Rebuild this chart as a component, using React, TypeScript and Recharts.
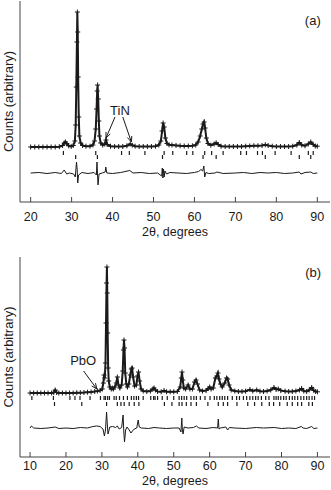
import React from "react";
import {
  ComposedChart,
  Line,
  Scatter,
  XAxis,
  YAxis,
  ReferenceLine,
  ReferenceDot,
} from "recharts";

type Pt = [number, number];

const FONT = "'Liberation Sans', Arial, sans-serif";
const INK = "#1a1a1a";
const FRAME = "#444";

// ---- panel (a) ----
const ticksA = [20, 30, 40, 50, 60, 70, 80, 90];

// observed profile: [2theta, counts]
const obsA: Pt[] = [
  [20, 0], [21, 0], [22, 0], [23, 0], [24, 0], [25, 0], [26, 0], [27, 3],
  [27.8, 15], [28.2, 40], [28.5, 50], [28.8, 35], [29.3, 12], [29.9, 6],
  [30.4, 15], [30.8, 60], [31.0, 220], [31.15, 600], [31.3, 1050], [31.4, 1350],
  [31.5, 1150], [31.6, 700], [31.75, 300], [31.9, 110], [32.2, 40], [32.7, 15],
  [33.5, 8], [34.5, 8], [35.2, 20], [35.6, 60], [35.9, 180], [36.1, 380],
  [36.25, 560], [36.35, 620], [36.5, 480], [36.65, 260], [36.8, 110], [37.1, 40],
  [37.6, 20], [38.1, 30], [38.4, 70], [38.7, 25], [39.5, 8], [40.5, 5],
  [41.5, 5], [42.5, 5], [43.5, 12], [44.3, 30], [44.8, 18], [45.5, 8],
  [46.5, 5], [47.5, 5], [48.5, 5], [49.5, 5], [50.5, 8], [51.3, 20],
  [51.8, 60], [52.1, 160], [52.35, 240], [52.6, 200], [52.9, 90], [53.3, 35],
  [53.8, 22], [54.5, 20], [55.5, 16], [56.5, 12], [57.5, 10], [58.5, 10],
  [59.5, 12], [60.3, 20], [60.9, 50], [61.4, 110], [61.8, 180], [62.1, 230],
  [62.35, 250], [62.6, 190], [62.9, 90], [63.3, 35], [64, 18], [64.8, 30],
  [65.3, 42], [65.8, 25], [66.5, 8], [67.5, 5], [68.5, 5], [69.5, 5],
  [70.5, 5], [71.5, 5], [72.5, 8], [73.5, 10], [74.5, 12], [75.5, 12],
  [76.5, 15], [77.3, 22], [78, 15], [79, 8], [80, 5], [81, 5], [82, 5],
  [83, 5], [84, 8], [85, 20], [85.6, 45], [86.2, 20], [87, 12], [87.8, 30],
  [88.4, 50], [89, 25], [89.5, 10], [90, 8],
];

// difference (obs - calc)
const diffA: Pt[] = [
  [20, 0], [22, 5], [24, -5], [26, 5], [27.5, -5], [28.2, 30], [28.8, -10],
  [29.5, 0], [30.5, -10], [30.9, -40], [31.2, 110], [31.35, 40], [31.5, -100],
  [31.7, -20], [32.5, 5], [34, -5], [35.5, 5], [36.05, -20], [36.2, 110],
  [36.35, -30], [36.45, -120], [36.7, -10], [37.5, 0], [38.2, 10], [38.35, 60],
  [38.6, 0], [40, -5], [42, 5], [44.2, 25], [45, 0], [47, 5], [49, -5],
  [51, 0], [52, -30], [52.15, 50], [52.3, -50], [52.45, 40], [52.6, -40],
  [52.8, 20], [53.2, -10], [54, 5], [56, 0], [58, -5], [60, 5], [61, 15],
  [61.6, 35], [62, 20], [62.3, 70], [62.5, -40], [62.8, 5], [63.5, -5],
  [65, 0], [65.5, 10], [67, -5], [70, 0], [72, 5], [74, -5], [76, 5],
  [78, 0], [80, 5], [82, -5], [84, 0], [85.6, 10], [86, -10], [87, 5],
  [88.4, 10], [89, -5], [90, 0],
];

// reflection positions
const reflA1 = [
  28.0, 35.9, 42.2, 44.1, 47.9, 52.6, 54.7, 58.1, 59.6, 62.5, 64.2, 67.0,
  71.3, 72.7, 75.4, 76.6, 79.7, 83.6, 87.8, 89.0,
];
const reflA2 = [31.0, 36.3, 52.2, 62.1, 65.3, 77.3, 85.6, 88.4];

// ---- panel (b) ----
const ticksB = [10, 20, 30, 40, 50, 60, 70, 80, 90];

const obsB: Pt[] = [
  [10, 0], [11, 0], [12, 0], [13, 0], [14, 0], [15, 0], [16, 0], [16.6, 5],
  [17, 30], [17.4, 5], [18, 0], [19, 0], [20, 0], [21, 0], [22, 0], [23, 3],
  [24, 3], [25, 5], [26, 8], [27, 10], [28, 15], [28.8, 20], [29.5, 25],
  [30.1, 40], [30.4, 100], [30.6, 180], [30.8, 150], [31.0, 300], [31.15, 700],
  [31.3, 1100], [31.4, 1260], [31.5, 1000], [31.6, 600], [31.75, 250],
  [31.9, 120], [32.2, 60], [32.6, 40], [32.9, 50], [33.2, 40], [33.6, 60],
  [34.0, 100], [34.3, 160], [34.6, 80], [35.0, 50], [35.5, 80], [35.8, 220],
  [36.0, 430], [36.15, 530], [36.3, 450], [36.5, 200], [36.8, 90], [37.1, 60],
  [37.5, 90], [37.9, 180], [38.2, 240], [38.4, 250], [38.7, 160], [39.1, 70],
  [39.6, 80], [39.9, 170], [40.2, 210], [40.5, 120], [40.9, 40], [41.5, 20],
  [42.5, 15], [43.5, 20], [44.2, 40], [44.5, 50], [44.9, 30], [45.5, 15],
  [46.5, 12], [47.3, 25], [48, 12], [49, 12], [50, 12], [51, 15], [51.8, 60],
  [52.1, 150], [52.3, 210], [52.5, 130], [52.8, 50], [53.3, 40], [54.0, 80],
  [54.5, 40], [55.2, 40], [55.8, 110], [56.2, 130], [56.6, 90], [57.2, 30],
  [58, 20], [59, 25], [59.6, 45], [60.0, 60], [60.4, 40], [61.0, 50],
  [61.6, 150], [62.0, 170], [62.3, 200], [62.6, 140], [63.0, 90], [63.5, 60],
  [64.2, 100], [64.7, 150], [65.0, 140], [65.4, 80], [66, 30], [67, 20],
  [68, 15], [69, 15], [70, 18], [71.2, 35], [72, 20], [73.1, 30], [74, 18],
  [75, 15], [76, 20], [77, 30], [77.9, 55], [78.5, 35], [79.1, 40], [79.8, 25],
  [81, 18], [82, 15], [83, 15], [84, 20], [85, 30], [85.6, 45], [86.2, 20],
  [87, 15], [87.7, 30], [88.4, 55], [89, 25], [89.5, 15], [90, 12],
];

const diffB: Pt[] = [
  [10, 0], [10.4, 20], [11, 0], [13, -5], [15, 0], [17, 10], [18, -5], [20, 0],
  [22, -5], [24, 5], [26, 0], [27.5, 15], [28.5, 20], [29.5, 15], [30.3, -10],
  [30.7, -80], [31.0, -20], [31.3, 160], [31.5, 40], [31.7, -60], [32.2, 10],
  [33, 15], [33.8, 5], [34.3, 20], [34.8, -10], [35.5, 5], [35.9, 130],
  [36.1, -40], [36.3, -140], [36.6, -20], [37, 10], [37.6, -20], [38.1, -50],
  [38.5, -30], [39, -10], [39.7, 0], [40.1, 80], [40.4, 10], [41, 0], [43, -5],
  [44.5, 5], [46, 0], [48, -5], [50, 0], [51.5, 0], [52.0, -40], [52.25, 100],
  [52.4, -20], [52.6, -60], [52.9, 10], [54, 0], [55.5, 5], [56.3, 20],
  [57, 0], [59, -5], [61, 5], [62.2, 0], [62.4, 90], [62.6, -10], [63, 0],
  [64.5, 10], [65, -20], [65.5, 5], [67, 0], [70, -5], [73, 5], [75, 0],
  [78, 5], [80, -5], [82, 0], [84, -5], [85.5, 15], [86, 0], [87, -5],
  [88.4, 15], [89, -5], [90, 0],
];

const reflB1 = [
  10.5, 16.5, 21.1, 22.5, 23.9, 26.7, 29.6, 30.6, 31.0, 31.6, 32.1, 33.4,
  34.0, 34.9, 36.0, 37.1, 38.2, 38.9, 39.6, 40.2, 41.5, 43.6, 44.4, 44.8,
  45.5, 46.8, 48.2, 50.0, 51.5, 52.2, 52.9, 53.6, 54.8, 55.6, 56.3, 57.4,
  58.7, 60.1, 61.3, 62.0, 62.8, 63.5, 64.2, 65.0, 66.3, 67.5, 68.3, 69.4,
  70.3, 71.2, 72.0, 72.8, 73.5, 74.4, 75.6, 76.5, 77.9, 78.5, 79.1, 79.8,
  80.6, 81.3, 82.2, 83.0, 83.7, 84.5, 85.4, 86.2, 87.0, 87.7, 88.5, 89.2,
];
const reflB2 = [
  16.8, 24.4, 31.3, 34.3, 35.3, 36.2, 37.6, 39.0, 40.3, 47.4, 49.5, 51.5,
  52.3, 53.5, 54.8, 56.3, 59.5, 62.4, 63.8, 65.0, 67.6, 70.6, 72.5, 74.5,
  76.6, 77.8, 79.5, 81.6, 83.0, 84.5, 85.6, 87.6, 88.6,
];

const toXY = (pts: Pt[], shift = 0) => pts.map(([x, y]) => ({ x, y: y + shift }));
const rowXY = (xs: number[], y: number) => xs.map((x) => ({ x, y }));

const Cross = (p: any) => (
  <path
    d={`M${p.cx - 2.5},${p.cy}h5M${p.cx},${p.cy - 2.5}v5`}
    stroke={INK}
    strokeWidth={1}
    fill="none"
  />
);

const RefMark = (p: any) => (
  <line x1={p.cx} x2={p.cx} y1={p.cy - 2} y2={p.cy + 2} stroke={INK} strokeWidth={1.2} />
);

const Arrow = (p: any) => {
  const { x1, y1, x2, y2 } = p;
  const a = Math.atan2(y2 - y1, x2 - x1);
  const L = 6;
  const w = 0.4;
  const hx1 = x2 - L * Math.cos(a - w);
  const hy1 = y2 - L * Math.sin(a - w);
  const hx2 = x2 - L * Math.cos(a + w);
  const hy2 = y2 - L * Math.sin(a + w);
  return (
    <g stroke={INK} strokeWidth={1} fill="none">
      <line x1={x1} y1={y1} x2={x2} y2={y2} />
      <path d={`M${hx1},${hy1}L${x2},${y2}L${hx2},${hy2}`} />
    </g>
  );
};

const makeTick = (gap: number) => (props: any) => {
  const { x, y, payload } = props;
  return (
    <g>
      <line x1={x} x2={x} y1={y} y2={y - 5} stroke={FRAME} strokeWidth={1} />
      <text x={x} y={y + gap} textAnchor="middle" fontSize={12.5} fill={INK} fontFamily={FONT}>
        {payload.value}
      </text>
    </g>
  );
};

interface PanelProps {
  top: number;
  height: number;
  marginTop: number;
  axisH: number;
  tickGap: number;
  titleOffset: number;
  xDomain: [number, number];
  yDomain: [number, number];
  ticks: number[];
  obs: Pt[];
  diff: Pt[];
  diffShift: number;
  row1: number[];
  row1Y: number;
  row2: number[];
  row2Y: number;
  tag: string;
  tagAt: Pt;
  note: string;
  noteAt: Pt;
  arrows: [Pt, Pt][];
}

const lbl = (value: string) => ({
  value,
  position: "center" as const,
  fontSize: 13,
  fill: INK,
  fontFamily: FONT,
});

const Panel = (p: PanelProps) => {
  const obs = toXY(p.obs);
  return (
    <div style={{ position: "absolute", left: 0, top: p.top }}>
      <ComposedChart
        width={331}
        height={p.height}
        margin={{ top: p.marginTop, right: 1, bottom: 0, left: 0 }}
      >
        <XAxis
          xAxisId="b"
          dataKey="x"
          type="number"
          domain={p.xDomain}
          allowDataOverflow
          ticks={p.ticks}
          interval={0}
          height={p.axisH}
          tickSize={0}
          tickMargin={0}
          tickLine={false}
          tick={makeTick(p.tickGap)}
          axisLine={{ stroke: FRAME }}
          label={{
            value: "2θ, degrees",
            position: "insideBottom",
            offset: p.titleOffset,
            fontSize: 12.5,
            fill: INK,
            fontFamily: FONT,
          }}
        />
        <XAxis
          xAxisId="t"
          orientation="top"
          dataKey="x"
          type="number"
          domain={p.xDomain}
          allowDataOverflow
          height={0}
          tick={false}
          tickLine={false}
          axisLine={{ stroke: FRAME }}
        />
        <YAxis
          yAxisId="l"
          dataKey="y"
          type="number"
          domain={p.yDomain}
          allowDataOverflow
          width={20}
          tick={false}
          tickLine={false}
          axisLine={{ stroke: FRAME }}
          label={{
            value: "Counts (arbitrary)",
            angle: -90,
            position: "insideLeft",
            offset: 8,
            fontSize: 13,
            fill: INK,
            fontFamily: FONT,
            style: { textAnchor: "middle" },
          }}
        />
        <YAxis
          yAxisId="r"
          orientation="right"
          type="number"
          domain={p.yDomain}
          allowDataOverflow
          width={0}
          tick={false}
          tickLine={false}
          axisLine={{ stroke: FRAME }}
        />
        <Line
          xAxisId="b"
          yAxisId="l"
          data={obs}
          dataKey="y"
          type="linear"
          stroke={INK}
          strokeWidth={2}
          dot={false}
          isAnimationActive={false}
        />
        <Scatter
          xAxisId="b"
          yAxisId="l"
          data={obs}
          shape={Cross}
          isAnimationActive={false}
        />
        <Line
          xAxisId="b"
          yAxisId="l"
          data={toXY(p.diff, p.diffShift)}
          dataKey="y"
          type="linear"
          stroke={INK}
          strokeWidth={1}
          dot={false}
          isAnimationActive={false}
        />
        <Scatter
          xAxisId="b"
          yAxisId="l"
          data={rowXY(p.row1, p.row1Y)}
          shape={RefMark}
          isAnimationActive={false}
        />
        <Scatter
          xAxisId="b"
          yAxisId="l"
          data={rowXY(p.row2, p.row2Y)}
          shape={RefMark}
          isAnimationActive={false}
        />
        {p.arrows.map(([s, e], i) => (
          <ReferenceLine
            key={i}
            xAxisId="b"
            yAxisId="l"
            segment={[
              { x: s[0], y: s[1] },
              { x: e[0], y: e[1] },
            ]}
            shape={Arrow}
          />
        ))}
        <ReferenceDot
          xAxisId="b"
          yAxisId="l"
          x={p.noteAt[0]}
          y={p.noteAt[1]}
          r={0}
          fill="none"
          stroke="none"
          label={lbl(p.note)}
        />
        <ReferenceDot
          xAxisId="b"
          yAxisId="l"
          x={p.tagAt[0]}
          y={p.tagAt[1]}
          r={0}
          fill="none"
          stroke="none"
          label={lbl(p.tag)}
        />
      </ComposedChart>
    </div>
  );
};

export default function App() {
  return (
    <div
      style={{
        position: "absolute",
        left: 0,
        top: 0,
        width: 331,
        height: 490,
        background: "#fff",
        fontFamily: FONT,
      }}
    >
      <Panel
        top={0}
        height={240}
        marginTop={1}
        axisH={38}
        tickGap={19}
        titleOffset={4.5}
        xDomain={[17.4, 93.1]}
        yDomain={[-550, 1460]}
        ticks={ticksA}
        obs={obsA}
        diff={diffA}
        diffShift={-260}
        row1={reflA1}
        row1Y={-60}
        row2={reflA2}
        row2Y={-100}
        tag="(a)"
        tagAt={[88.9, 1270]}
        note="TiN"
        noteAt={[41.8, 370]}
        arrows={[
          [[40.6, 300], [38.4, 90]],
          [[42.5, 300], [44.6, 50]],
        ]}
      />
      <Panel
        top={245}
        height={245}
        marginTop={12}
        axisH={33}
        tickGap={13}
        titleOffset={5.5}
        xDomain={[7.2, 93.5]}
        yDomain={[-640, 1360]}
        ticks={ticksB}
        obs={obsB}
        diff={diffB}
        diffShift={-350}
        row1={reflB1}
        row1Y={-50}
        row2={reflB2}
        row2Y={-110}
        tag="(b)"
        tagAt={[88.8, 1210]}
        note="PbO"
        noteAt={[24.8, 330]}
        arrows={[[[24.9, 220], [28.6, 40]]]}
      />
    </div>
  );
}
